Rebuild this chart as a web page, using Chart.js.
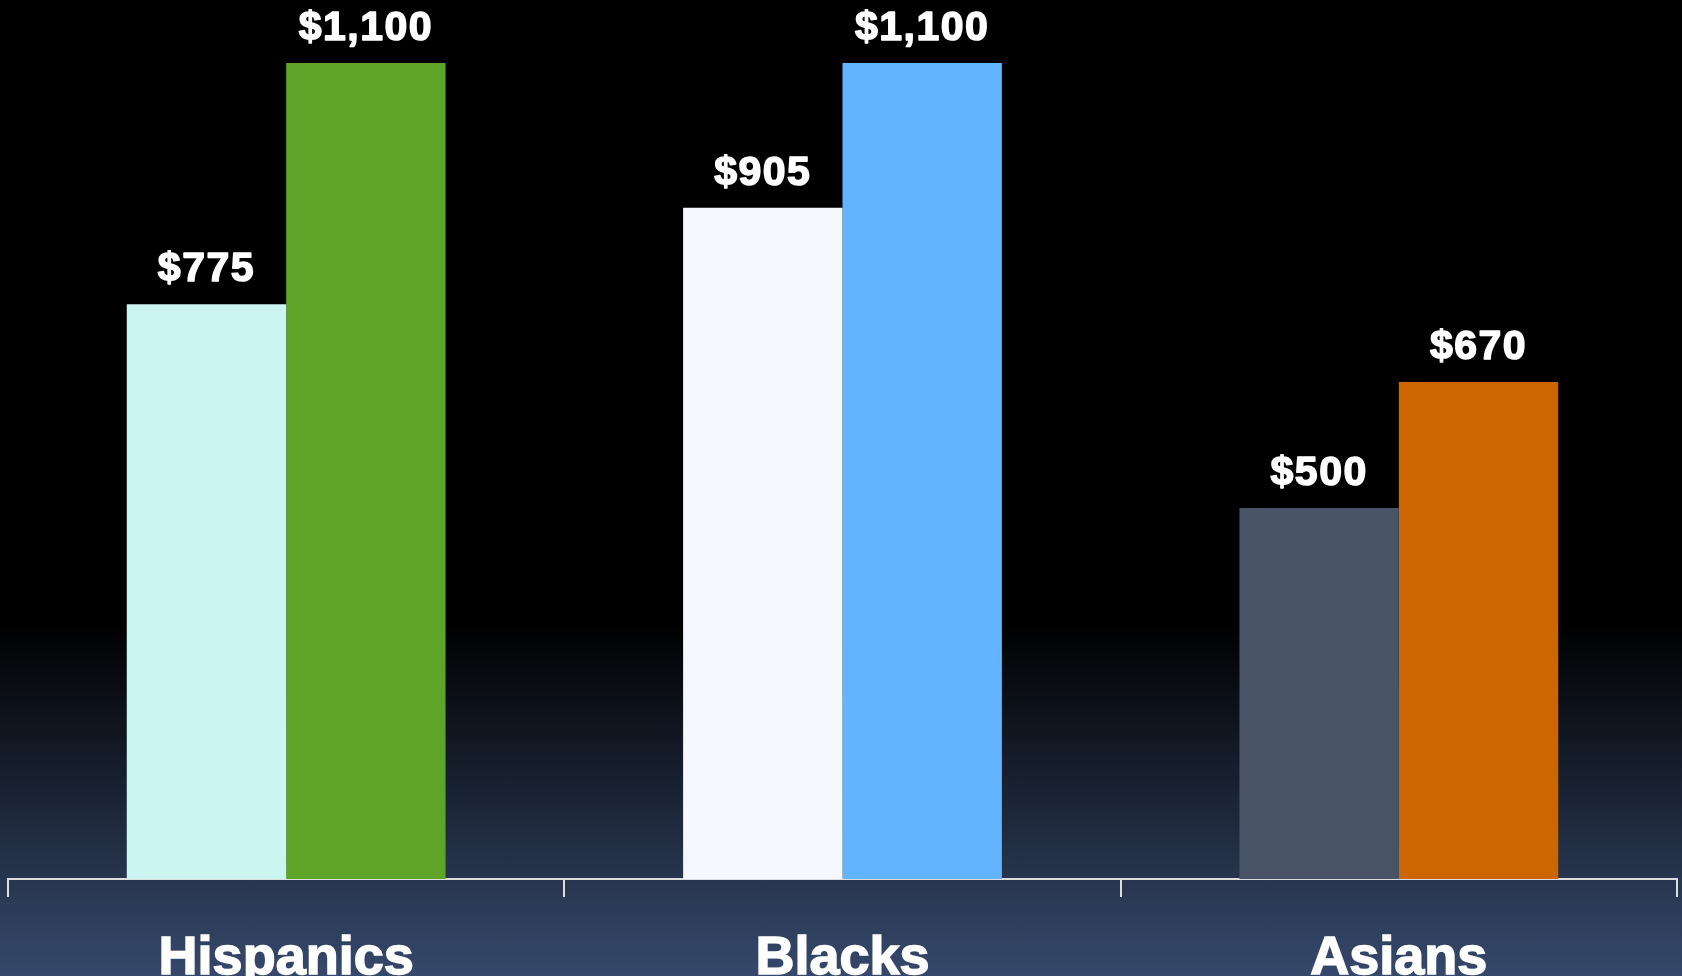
<!DOCTYPE html>
<html>
<head>
<meta charset="utf-8">
<title>Spending by group</title>
<script src="https://cdn.jsdelivr.net/npm/chart.js@4/dist/chart.umd.min.js"></script>
<style>
  html, body { margin: 0; padding: 0; }
  body {
    width: 1682px; height: 976px; overflow: hidden;
    background: linear-gradient(to bottom, #000 0%, #000 64%, #36496c 100%);
  }
  canvas { display: block; }
</style>
</head>
<body>
<canvas id="chart" width="1682" height="976"></canvas>
<script>
// data
const categories = ['Hispanics', 'Blacks', 'Asians'];
const firstValues = [775, 905, 500];
const secondValues = [1100, 1100, 670];
const firstColors = ['#caf5f0', '#f5f9ff', '#485366'];
const secondColors = ['#5ea428', '#62b4ff', '#cc6600'];

const fmt = v => '$' + v.toLocaleString('en-US');

// value labels above each bar
const valueLabels = {
  id: 'valueLabels',
  afterDatasetsDraw(chart) {
    const ctx = chart.ctx;
    ctx.save();
    ctx.fillStyle = '#ffffff';
    ctx.strokeStyle = '#ffffff';
    ctx.lineWidth = 1.5;
    ctx.lineJoin = 'round';
    ctx.font = 'bold 41px "Liberation Sans", Arial, sans-serif';
    ctx.letterSpacing = '1.5px';
    ctx.textAlign = 'center';
    ctx.textBaseline = 'alphabetic';
    chart.data.datasets.forEach((ds, i) => {
      chart.getDatasetMeta(i).data.forEach((bar, j) => {
        const txt = fmt(ds.data[j]);
        ctx.strokeText(txt, bar.x, bar.y - 23);
        ctx.fillText(txt, bar.x, bar.y - 23);
      });
    });
    ctx.restore();
  }
};

new Chart(document.getElementById('chart'), {
  type: 'bar',
  data: {
    labels: categories,
    datasets: [
      { label: 'First', data: firstValues, backgroundColor: firstColors, borderWidth: 0 },
      { label: 'Second', data: secondValues, backgroundColor: secondColors, borderWidth: 0 },
    ],
  },
  options: {
    responsive: false,
    animation: false,
    devicePixelRatio: 1,
    layout: { padding: { left: 8, right: 5, top: 0, bottom: 0 } },
    datasets: { bar: { categoryPercentage: 0.573, barPercentage: 1 } },
    plugins: { legend: { display: false }, tooltip: { enabled: false } },
    scales: {
      x: {
        offset: true,
        border: { display: true, color: '#dddddd', width: 2 },
        grid: { display: true, offset: true, drawOnChartArea: false, drawTicks: true, tickLength: 18, color: '#dddddd', lineWidth: 2 },
        ticks: {
          color: '#ffffff', padding: 30,
          textStrokeColor: '#ffffff', textStrokeWidth: 1.5,
          font: { family: '"Liberation Sans", Arial, sans-serif', size: 54, weight: 'bold' },
        },
        afterFit: scale => { scale.height = 97; },
      },
      y: { display: false, min: 0, max: 1185 },
    },
  },
  plugins: [valueLabels],
});
</script>
</body>
</html>
